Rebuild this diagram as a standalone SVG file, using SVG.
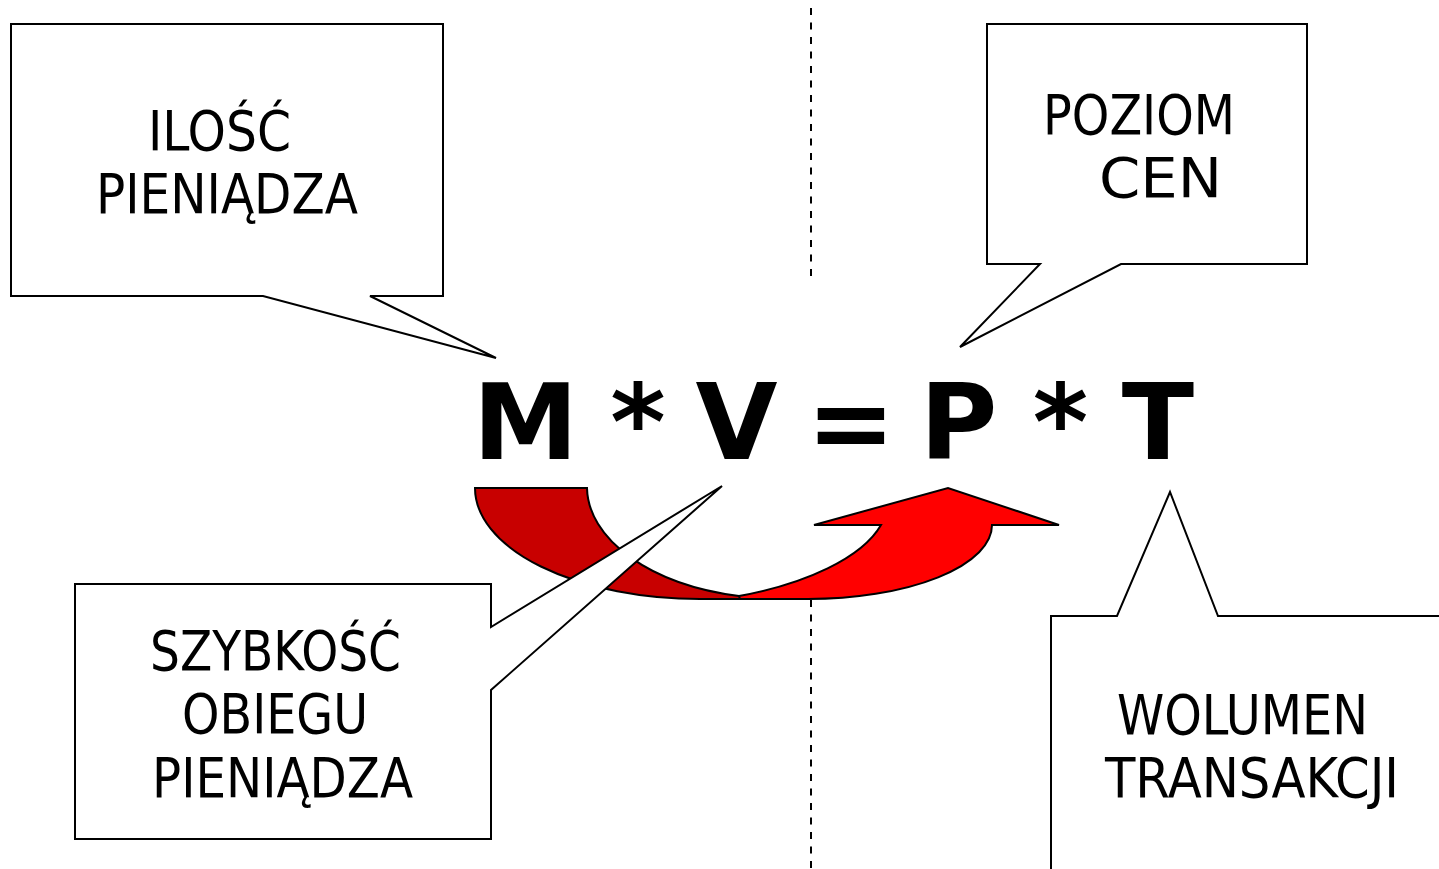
<svg xmlns="http://www.w3.org/2000/svg" width="1439" height="869" viewBox="0 0 1439 869">
<style>
.bg{fill:#ffffff}
.dash{stroke:#000;stroke-width:2;stroke-dasharray:7 7.5;fill:none}
.callout{fill:#ffffff;stroke:#000;stroke-width:2;stroke-linejoin:miter}
.lbl{font-family:"DejaVu Sans Condensed","DejaVu Sans",sans-serif;font-size:55px;fill:#000}
.eq{font-family:"DejaVu Sans","Liberation Sans",sans-serif;font-weight:bold;font-size:106px;fill:#000;text-anchor:middle}
.arrowDark{fill:#c80000;stroke:#000;stroke-width:2;stroke-linejoin:miter}
.arrowLight{fill:#ff0000;stroke:#000;stroke-width:2;stroke-linejoin:miter}
</style>
<rect class="bg" x="0" y="0" width="1439" height="869"/>
<g id="connectors">
  <line class="dash" x1="811" y1="8" x2="811" y2="280"/>
  <line class="dash" x1="811" y1="600" x2="811" y2="869"/>
  <path id="arrow-back" class="arrowDark" d="M475,488 H587 A193.5,112 0 0 0 739,596 L808,599 L700,599 A225,111 0 0 1 475,488 Z"/>
  <path id="arrow-front" class="arrowLight" d="M739,596 C805,584 862,558 881,525 L814,525 L948,488 L1059,525 L992,525 A184,74 0 0 1 808,599 L740,599 Z"/>
</g>
<g id="node-ilosc">
  <path class="callout" d="M11,24 H443 V296 H370 L496,358 L263,296 H11 Z"/>
  <text class="lbl" x="148" y="150" textLength="143" lengthAdjust="spacingAndGlyphs">ILOŚĆ</text>
  <text class="lbl" x="96" y="213" textLength="262" lengthAdjust="spacingAndGlyphs">PIENIĄDZA</text>
</g>
<g id="node-poziom">
  <path class="callout" d="M987,24 H1307 V264 H1121 L960,347 L1040,264 H987 Z"/>
  <text class="lbl" x="1043" y="134" textLength="192" lengthAdjust="spacingAndGlyphs">POZIOM</text>
  <text class="lbl" x="1099" y="197" textLength="123" lengthAdjust="spacingAndGlyphs">CEN</text>
</g>
<g id="node-szybkosc">
  <path class="callout" d="M75,584 H491 V627 L722,486 L491,690 V839 H75 Z"/>
  <text class="lbl" x="150" y="670" textLength="251" lengthAdjust="spacingAndGlyphs">SZYBKOŚĆ</text>
  <text class="lbl" x="182" y="733" textLength="186" lengthAdjust="spacingAndGlyphs">OBIEGU</text>
  <text class="lbl" x="152" y="797" textLength="261" lengthAdjust="spacingAndGlyphs">PIENIĄDZA</text>
</g>
<g id="node-wolumen">
  <path class="callout" d="M1051,880 V616 H1117 L1170,492 L1218,616 H1450 V880 Z"/>
  <text class="lbl" x="1117" y="734" textLength="251" lengthAdjust="spacingAndGlyphs">WOLUMEN</text>
  <text class="lbl" x="1105" y="797" textLength="294" lengthAdjust="spacingAndGlyphs">TRANSAKCJI</text>
</g>
<g id="equation">
  <text class="eq" x="525.5" y="459">M</text>
  <text class="eq" x="638" y="459">*</text>
  <text class="eq" x="736.5" y="459">V</text>
  <text class="eq" x="851" y="459">=</text>
  <text class="eq" x="958.5" y="459">P</text>
  <text class="eq" x="1060.5" y="459">*</text>
  <text class="eq" x="1158" y="459">T</text>
</g>
</svg>
